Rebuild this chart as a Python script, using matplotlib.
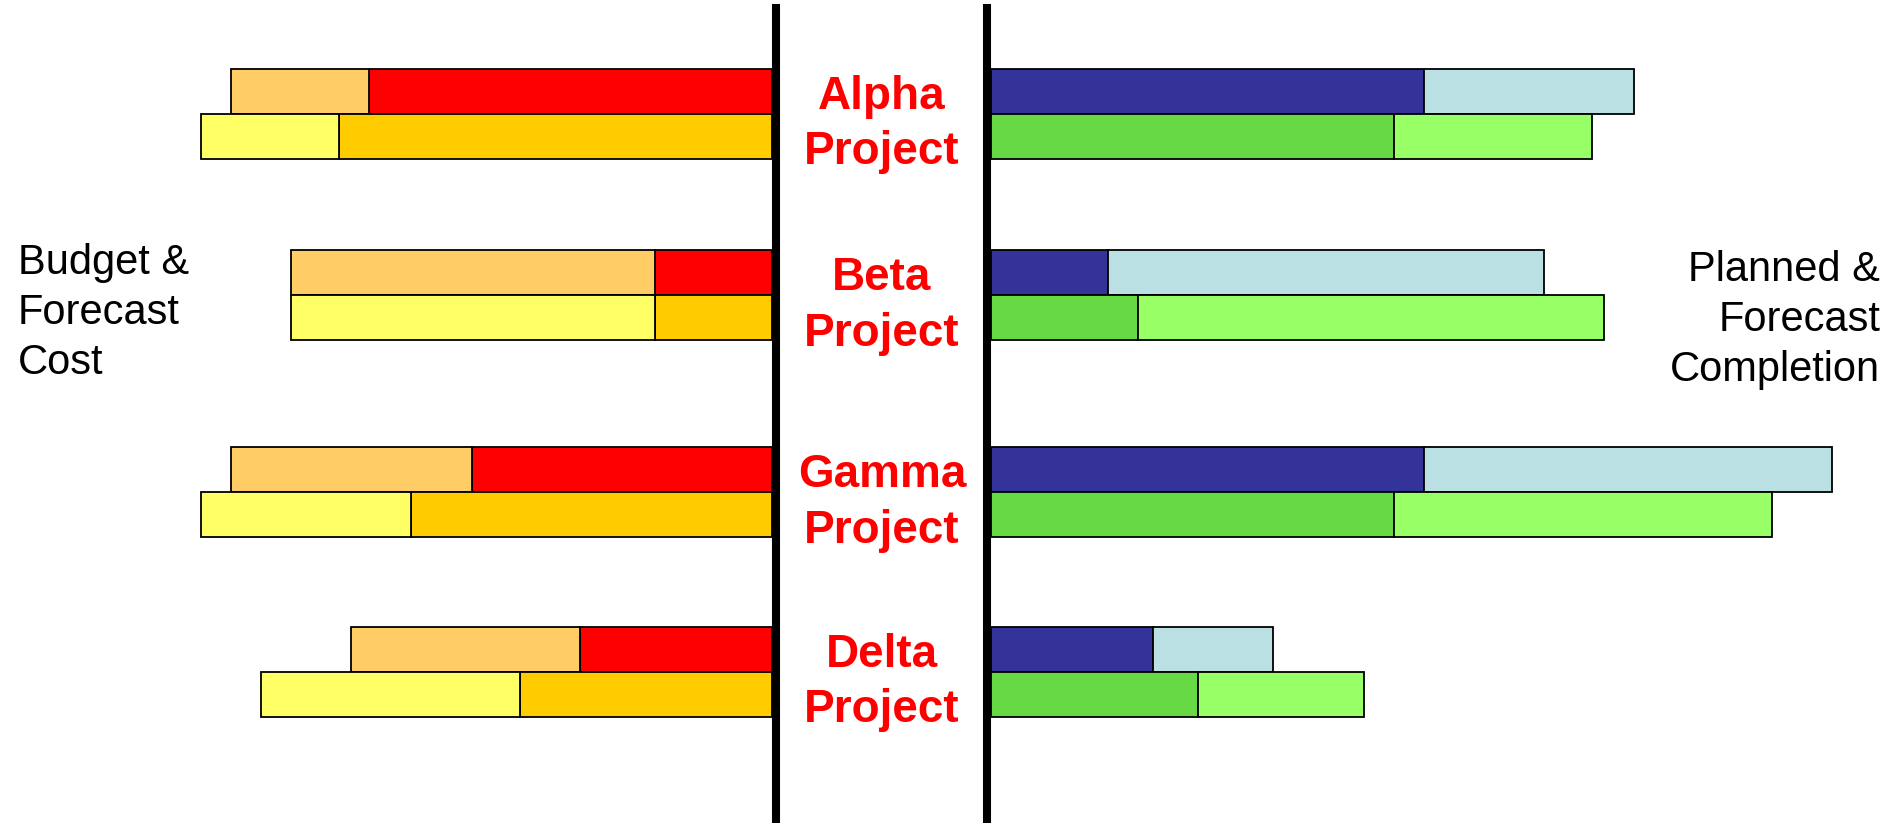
import matplotlib.pyplot as plt
from matplotlib.lines import Line2D

projects = ['Alpha\nProject', 'Beta\nProject', 'Gamma\nProject', 'Delta\nProject']

# cost side (left)
budget = [90, 80, 90, 70]
spent = [67, 19.5, 50, 32]
forecast = [95, 80, 95, 85]
forecast_spent = [72, 19.5, 60, 42]

# schedule side (right)
planned = [107, 92, 140, 47]
planned_done = [72, 19.5, 72, 27]
forecast_compl = [100, 102, 130, 62]
forecast_done = [67, 24.5, 67, 34.5]

plt.rcParams['font.family'] = ['Liberation Sans', 'DejaVu Sans']

W, H = 1894, 823
fig = plt.figure(figsize=(W / 100, H / 100), dpi=100)

pxu = 6.01      # pixels per unit
rowpx = 186     # pixels between rows
row0 = 113.5    # first row centre, px from top
bh = 45 / rowpx
row_pos = [0, 0.974, 2.033, 3.0]   # rows are not quite evenly spaced

left_edge = 772
right_edge = 991
axl = fig.add_axes([0, 0, left_edge / W, 1])
axr = fig.add_axes([right_edge / W, 0, (W - right_edge) / W, 1])

axl.set_xlim(left_edge / pxu, 0)
axr.set_xlim(0, (W - right_edge) / pxu)
for ax in (axl, axr):
    ax.set_ylim((H - row0) / rowpx, -row0 / rowpx)
    ax.axis('off')

yt = [v - bh / 2 for v in row_pos]
yb = [v + bh / 2 for v in row_pos]
kw = dict(height=bh, edgecolor='black', linewidth=1.3)

rem_budget = [b - s for b, s in zip(budget, spent)]
rem_fc = [f - s for f, s in zip(forecast, forecast_spent)]
axl.barh(yt, spent, color='#FF0000', **kw)
axl.barh(yt, rem_budget, left=spent, color='#FFCC66', **kw)
axl.barh(yb, forecast_spent, color='#FFCC00', **kw)
axl.barh(yb, rem_fc, left=forecast_spent, color='#FFFF66', **kw)

rem_plan = [p - d for p, d in zip(planned, planned_done)]
rem_fcc = [p - d for p, d in zip(forecast_compl, forecast_done)]
axr.barh(yt, planned_done, color='#333399', **kw)
axr.barh(yt, rem_plan, left=planned_done, color='#BBE0E3', **kw)
axr.barh(yb, forecast_done, color='#66D944', **kw)
axr.barh(yb, rem_fcc, left=forecast_done, color='#99FF66', **kw)

# separator lines
for xp in (776, 987):
    fig.add_artist(Line2D([xp / W, xp / W], [0, 1 - 8 / H], color='black',
                          linewidth=5.8, transform=fig.transFigure))

# project labels in the middle
for p, name in zip(row_pos, projects):
    yc = 1 - (row0 + p * rowpx + 11) / H
    fig.text(882 / W, yc, name, color='#FF0000', fontsize=33, fontweight='bold',
             ha='center', va='center', linespacing=1.35)

fig.text(18 / W, 1 - 313 / H, 'Budget &\nForecast\nCost', fontsize=30,
         ha='left', va='center', linespacing=1.31)
fig.text(1880 / W, 1 - 320 / H, 'Planned &\nForecast\nCompletion', fontsize=30,
         ha='right', va='center', multialignment='right', linespacing=1.31)

fig.savefig('out.png', dpi=100)
